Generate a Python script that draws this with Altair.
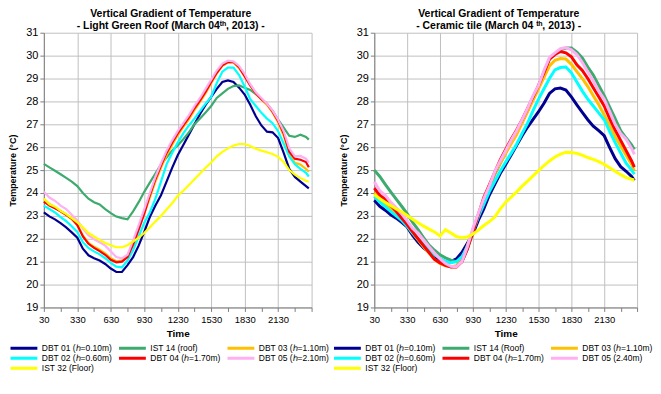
import altair as alt
import pandas as pd

# time of day, hhmm
TIMES = [30, 100, 130, 200, 230, 300, 330, 400, 430, 500, 530, 600, 630, 700, 730, 800,
         830, 900, 930, 1000, 1030, 1100, 1130, 1200, 1230, 1300, 1330, 1400, 1430, 1500,
         1530, 1600, 1630, 1700, 1730, 1800, 1830, 1900, 1930, 2000, 2030, 2100, 2130,
         2200, 2230, 2300, 2330, 2400, 2415]
X_TICKS = [0.5, 2, 3.5, 5, 6.5, 8, 9.5, 11, 12.5, 14, 15.5, 17, 18.5, 20, 21.5, 23, 24.5]
Y_TICKS = [19, 20, 21, 22, 23, 24, 25, 26, 27, 28, 29, 30, 31]

# ---- Light Green Roof ----
L_DBT01 = [23.15, 22.98, 22.85, 22.68, 22.50, 22.28, 22.05, 21.57, 21.28, 21.15, 21.05, 20.90,
           20.70, 20.55, 20.55, 20.85, 21.20, 21.70, 22.30, 22.95, 23.45, 23.90, 24.50, 25.10,
           25.65, 26.10, 26.55, 27.00, 27.45, 27.85, 28.20, 28.55, 28.85, 28.92, 28.85, 28.60,
           28.30, 27.85, 27.35, 26.95, 26.68, 26.65, 26.40, 25.75, 25.05, 24.70, 24.50, 24.30, 24.20]
L_IST14 = [25.27, 25.12, 24.97, 24.82, 24.66, 24.50, 24.30, 24.00, 23.75, 23.60, 23.50, 23.30,
           23.12, 22.97, 22.90, 22.85, 23.20, 23.60, 24.05, 24.45, 24.85, 25.25, 25.55, 25.85,
           26.08, 26.35, 26.65, 27.00, 27.25, 27.52, 27.80, 28.15, 28.35, 28.55, 28.67, 28.70,
           28.60, 28.50, 28.32, 28.12, 27.88, 27.60, 27.20, 26.85, 26.50, 26.45, 26.55, 26.45, 26.33]
L_DBT03 = [23.75, 23.52, 23.38, 23.20, 23.05, 22.85, 22.60, 22.15, 21.82, 21.65, 21.52, 21.36,
           21.15, 21.02, 21.05, 21.28, 21.82, 22.45, 23.10, 23.80, 24.50, 25.10, 25.65, 26.10,
           26.52, 26.88, 27.22, 27.62, 27.98, 28.36, 28.80, 29.22, 29.55, 29.70, 29.70, 29.45,
           29.09, 28.70, 28.35, 28.08, 27.85, 27.52, 27.08, 26.50, 25.70, 25.32, 25.24, 25.05, 24.93]
L_DBT02 = [23.45, 23.30, 23.15, 22.95, 22.77, 22.55, 22.30, 21.85, 21.60, 21.45, 21.32, 21.15,
           20.95, 20.78, 20.75, 21.05, 21.50, 22.10, 22.70, 23.15, 23.75, 24.50, 25.25, 25.75,
           26.20, 26.60, 26.95, 27.25, 27.58, 27.90, 28.20, 28.80, 29.30, 29.48, 29.48, 29.15,
           28.65, 28.10, 27.80, 27.50, 27.25, 27.05, 26.70, 26.15, 25.60, 25.25, 25.05, 24.88, 24.72]
L_DBT04 = [23.62, 23.45, 23.33, 23.20, 23.05, 22.88, 22.60, 22.10, 21.78, 21.60, 21.46, 21.30,
           21.08, 20.97, 21.00, 21.20, 21.75, 22.40, 23.10, 23.90, 24.60, 25.20, 25.75, 26.20,
           26.60, 26.95, 27.30, 27.70, 28.05, 28.42, 28.85, 29.25, 29.58, 29.72, 29.72, 29.50,
           29.10, 28.70, 28.35, 28.10, 27.90, 27.55, 27.15, 26.60, 25.80, 25.50, 25.45, 25.35, 25.12]
L_DBT05 = [24.05, 23.80, 23.66, 23.45, 23.30, 23.05, 22.80, 22.45, 22.15, 21.98, 21.85, 21.70,
           21.45, 21.20, 21.15, 21.30, 21.93, 22.60, 23.30, 24.00, 24.70, 25.30, 25.85, 26.30,
           26.70, 27.05, 27.40, 27.80, 28.15, 28.55, 28.95, 29.35, 29.65, 29.78, 29.75, 29.55,
           29.20, 28.75, 28.40, 28.15, 27.90, 27.60, 27.20, 26.70, 25.95, 25.60, 25.62, 25.50, 25.33]
L_IST32 = [23.75, 23.50, 23.40, 23.22, 23.08, 22.90, 22.72, 22.50, 22.25, 22.10, 21.95, 21.82,
           21.72, 21.63, 21.63, 21.72, 21.88, 22.05, 22.25, 22.50, 22.75, 23.00, 23.28, 23.55,
           23.88, 24.10, 24.35, 24.60, 24.85, 25.10, 25.33, 25.60, 25.80, 25.95, 26.07, 26.14,
           26.14, 26.05, 25.93, 25.85, 25.78, 25.70, 25.58, 25.35, 25.00, 24.80, 24.65, 24.53, 24.49]

# ---- Ceramic tile ----
R_DBT01 = [23.68, 23.42, 23.25, 23.05, 22.90, 22.72, 22.52, 22.15, 21.85, 21.60, 21.42, 21.22,
           21.08, 20.97, 21.00, 21.12, 21.40, 21.80, 22.20, 22.80, 23.30, 23.90, 24.38, 24.85,
           25.25, 25.66, 26.08, 26.50, 26.88, 27.22, 27.55, 27.92, 28.35, 28.55, 28.58, 28.50,
           28.20, 27.85, 27.52, 27.20, 26.92, 26.72, 26.50, 25.98, 25.50, 25.15, 24.95, 24.72, 24.55]
R_IST14 = [25.00, 24.72, 24.38, 24.05, 23.73, 23.42, 23.10, 22.72, 22.40, 22.05, 21.72, 21.50,
           21.30, 21.17, 21.07, 21.00, 21.00, 21.55, 22.35, 23.00, 23.65, 24.20, 24.82, 25.30,
           25.75, 26.22, 26.65, 27.10, 27.60, 28.15, 28.65, 29.30, 29.85, 30.08, 30.25, 30.33,
           30.33, 30.15, 29.90, 29.50, 29.15, 28.70, 28.25, 27.75, 27.25, 26.72, 26.40, 26.10, 25.90]
R_DBT03 = [24.00, 23.75, 23.55, 23.30, 23.08, 22.85, 22.58, 22.25, 21.95, 21.65, 21.38, 21.10,
           20.92, 20.82, 20.78, 20.82, 21.10, 21.70, 22.40, 23.05, 23.70, 24.30, 24.85, 25.30,
           25.75, 26.15, 26.55, 27.05, 27.55, 28.05, 28.55, 29.05, 29.55, 29.80, 29.87, 29.85,
           29.62, 29.30, 29.00, 28.65, 28.25, 27.85, 27.40, 26.95, 26.45, 26.05, 25.65, 25.25, 24.95]
R_DBT02 = [23.86, 23.60, 23.40, 23.20, 23.00, 22.80, 22.55, 22.25, 22.00, 21.75, 21.50, 21.30,
           21.15, 21.02, 20.95, 21.00, 21.22, 21.65, 22.30, 22.95, 23.50, 24.05, 24.50, 24.95,
           25.35, 25.73, 26.13, 26.60, 27.05, 27.60, 28.10, 28.55, 29.00, 29.38, 29.48, 29.50,
           29.25, 28.85, 28.45, 28.10, 27.80, 27.50, 27.20, 26.68, 26.20, 25.75, 25.30, 25.00, 24.82]
R_DBT04 = [24.21, 23.90, 23.72, 23.45, 23.20, 22.90, 22.62, 22.30, 22.00, 21.70, 21.40, 21.10,
           20.95, 20.84, 20.77, 20.77, 21.00, 21.55, 22.27, 23.05, 23.80, 24.35, 24.90, 25.45,
           25.90, 26.35, 26.75, 27.20, 27.70, 28.20, 28.70, 29.25, 29.85, 30.05, 30.18, 30.12,
           29.95, 29.60, 29.35, 29.00, 28.60, 28.20, 27.80, 27.25, 26.75, 26.30, 25.85, 25.40, 25.13]
R_DBT05 = [24.49, 24.10, 23.90, 23.60, 23.35, 23.10, 22.78, 22.45, 22.25, 21.95, 21.65, 21.38,
           21.12, 20.92, 20.80, 20.78, 21.00, 21.65, 22.45, 23.10, 23.75, 24.30, 24.92, 25.40,
           25.85, 26.30, 26.72, 27.20, 27.70, 28.25, 28.70, 29.35, 29.92, 30.12, 30.30, 30.35,
           30.25, 30.05, 29.70, 29.30, 28.90, 28.45, 28.10, 27.55, 27.00, 26.60, 26.35, 25.95, 25.69]
R_IST32 = [23.93, 23.75, 23.60, 23.45, 23.30, 23.18, 23.02, 22.85, 22.70, 22.55, 22.42, 22.30,
           22.12, 22.40, 22.25, 22.10, 22.05, 22.08, 22.20, 22.38, 22.58, 22.75, 22.95, 23.30,
           23.60, 23.82, 24.05, 24.30, 24.52, 24.75, 24.98, 25.20, 25.40, 25.57, 25.70, 25.78,
           25.77, 25.73, 25.65, 25.55, 25.47, 25.37, 25.25, 25.10, 24.95, 24.80, 24.67, 24.60, 24.57]

COLORS = ["#000090", "#3DAA6E", "#FFC000", "#00FFFF", "#FF0000", "#FFB0F2", "#FFFF00"]

LEFT_LABELS = ["DBT 01 (\u210e=0.10m)", "IST 14 (roof)", "DBT 03 (\u210e=1.10m)",
               "DBT 02 (\u210e=0.60m)", "DBT 04 (\u210e=1.70m)", "DBT 05 (\u210e=2.10m)",
               "IST 32 (Floor)"]
RIGHT_LABELS = ["DBT 01 (\u210e=0.10m)", "IST 14 (Roof)", "DBT 03 (\u210e=1.10m)",
                "DBT 02 (\u210e=0.60m)", "DBT 04 (\u210e=1.70m)", "DBT 05 (2.40m)",
                "IST 32 (Floor)"]
LEFT_SERIES = [L_DBT01, L_IST14, L_DBT03, L_DBT02, L_DBT04, L_DBT05, L_IST32]
RIGHT_SERIES = [R_DBT01, R_IST14, R_DBT03, R_DBT02, R_DBT04, R_DBT05, R_IST32]

LEFT_TITLE = ["Vertical Gradient of Temperature", "- Light Green Roof (March 04\u1d57\u02b0, 2013) -"]
RIGHT_TITLE = ["Vertical Gradient of Temperature", "- Ceramic tile (March 04 \u1d57\u02b0, 2013) -"]

FONT = "Liberation Sans"
HOURS = [t // 100 + (t % 100) / 60 for t in TIMES]


def frame(labels, series):
    rows = []
    for lab, vals in zip(labels, series):
        for h, v in zip(HOURS, vals):
            rows.append({"t": h, "T": v, "series": lab})
    return pd.DataFrame(rows)


def panel(labels, series, title, width, stroke, lx, ly):
    df = frame(labels, series)
    x = alt.X("t:Q", scale=alt.Scale(domain=[0.5, 24.5], nice=False, zero=False),
              axis=alt.Axis(values=X_TICKS, title="Time",
                            labelExpr="(datum.value - 0.5) % 3 == 0 && datum.value < 24 ? floor(datum.value) * 100 + 30 : ''",
                            gridOpacity={"condition": {"test": "(datum.value - 0.5) % 3 == 0", "value": 1}, "value": 0},
                            labelFontSize=9.5, labelPadding=3, tickSize=4,
                            titleFontSize=10, titleFontWeight="bold", titlePadding=5,
                            labelFlush=False))
    y = alt.Y("T:Q", scale=alt.Scale(domain=[19, 31], nice=False, zero=False),
              axis=alt.Axis(values=Y_TICKS, title="Temperature (\u00b0C)",
                            labelFontSize=11, labelPadding=2, tickSize=4,
                            titleFontSize=9, titleFontWeight="bold", titlePadding=8))
    color = alt.Color("series:N", sort=labels,
                      scale=alt.Scale(domain=labels, range=COLORS),
                      legend=alt.Legend(title=None, orient="none", legendX=lx, legendY=ly,
                                        direction="horizontal", columns=3,
                                        symbolType="M-1,0H8", symbolSize=36,
                                        symbolStrokeWidth=3, labelFontSize=8.5,
                                        labelOffset=24, columnPadding=5, rowPadding=0,
                                        clipHeight=10))
    return alt.Chart(df).mark_line(strokeWidth=stroke).encode(x=x, y=y, color=color).properties(
        width=width, height=276,
        title=alt.TitleParams(title, fontSize=10.5, fontWeight="bold", anchor="middle",
                              offset=-5, dx=-7, lineHeight=12, font=FONT))


left = panel(LEFT_LABELS, LEFT_SERIES, LEFT_TITLE, 269, 2.2, -35, 312)
right = panel(RIGHT_LABELS, RIGHT_SERIES, RIGHT_TITLE, 264, 3, -42, 312)

chart = alt.hconcat(left, right, spacing=3).resolve_scale(color="independent").properties(
    padding=0
).configure(font=FONT).configure_view(strokeWidth=0).configure_axis(
    gridColor="#C0C0C0", domainColor="#7F7F7F", tickColor="#7F7F7F",
    labelColor="#000000", titleColor="#000000", labelFont=FONT, titleFont=FONT
).configure_legend(labelFont=FONT, labelColor="#000000")

chart.save("out.html", embed_options={"renderer": "svg", "actions": False})
